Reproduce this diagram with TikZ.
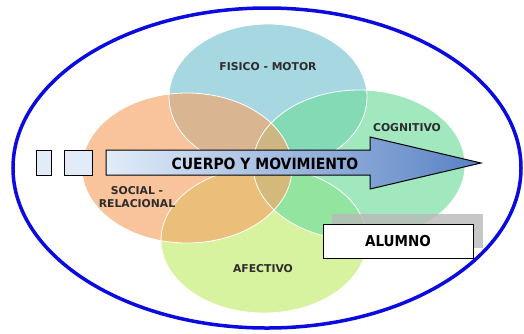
\documentclass[tikz,border=0pt]{standalone}
\usepackage{fontspec}
\setmainfont{DejaVu Sans}
\newfontfamily\heavyfont{DejaVu Sans Condensed}
\newfontfamily\lblfont{DejaVu Sans}
\definecolor{ctop}{RGB}{121,195,210}
\definecolor{cleft}{RGB}{246,164,103}
\definecolor{cright}{RGB}{112,220,158}
\definecolor{cbot}{RGB}{195,238,109}
\definecolor{ringblue}{RGB}{10,10,225}
\definecolor{arrowL}{RGB}{226,236,248}
\definecolor{arrowR}{RGB}{88,130,196}
\definecolor{lbl}{RGB}{45,45,45}
\tikzset{
  petal/.style={fill opacity=0.65},
  petaledge/.style={draw=white, line width=0.8pt},
  lbltext/.style={font=\lblfont\bfseries\fontsize{10.8}{12.5}\selectfont, text=lbl, align=center, inner sep=0pt},
  smallbox/.style={draw=black, fill=arrowL, line width=1pt, inner sep=0pt},
}
\begin{document}
\begin{tikzpicture}[x=1pt,y=-1pt]
\useasboundingbox (0,0) rectangle (524,333);
\fill[white] (0,0) rectangle (524,333);
% outer ring
\draw[ringblue, line width=3.5pt] (267,168) ellipse [x radius=254pt, y radius=160pt];
% petals
\fill[petal, fill=ctop] (268,97) ellipse [x radius=99pt, y radius=73pt];
\fill[petal, fill=cbot] (264,240) ellipse [x radius=103pt, y radius=73pt];
\fill[petal, fill=cright] (359,165) ellipse [x radius=106pt, y radius=75pt];
\fill[petal, fill=cleft] (187,168) ellipse [x radius=105pt, y radius=75pt];
\draw[petaledge] (268,97) ellipse [x radius=99pt, y radius=73pt];
\draw[petaledge] (264,240) ellipse [x radius=103pt, y radius=73pt];
\draw[petaledge] (359,165) ellipse [x radius=106pt, y radius=75pt];
\draw[petaledge] (187,168) ellipse [x radius=105pt, y radius=75pt];
% labels
\node[lbltext] (fm) at (268,67) {FISICO - MOTOR};
\node[lbltext] (cg) at (407,128) {COGNITIVO};
\node[lbltext] (sr) at (137,197) {SOCIAL -\\RELACIONAL};
\node[lbltext] (af) at (263,269) {AFECTIVO};
% small boxes
\node[smallbox, minimum width=15pt, minimum height=25pt] (b1) at (43.5,162.5) {};
\node[smallbox, minimum width=28pt, minimum height=25pt] (b2) at (78,162.5) {};
% arrow
\shade[left color=arrowL, right color=arrowR, draw=black, line width=1pt]
  (106,150) -- (370,150) -- (370,137) -- (481,163) -- (370,189) -- (370,175) -- (106,175) -- cycle;
\node[font=\heavyfont\bfseries\fontsize{15.5}{18}\selectfont, inner sep=0pt] (cm) at (265,163.5) {CUERPO Y MOVIMIENTO};
% alumno
\fill[gray!55, fill opacity=0.8] (332,214) rectangle (483,248);
\node[draw=black, fill=white, line width=1pt, minimum width=150pt, minimum height=34pt, inner sep=0pt,
  font=\heavyfont\bfseries\fontsize{15}{18}\selectfont] (al) at (398,241) {ALUMNO};
\end{tikzpicture}
\end{document}
